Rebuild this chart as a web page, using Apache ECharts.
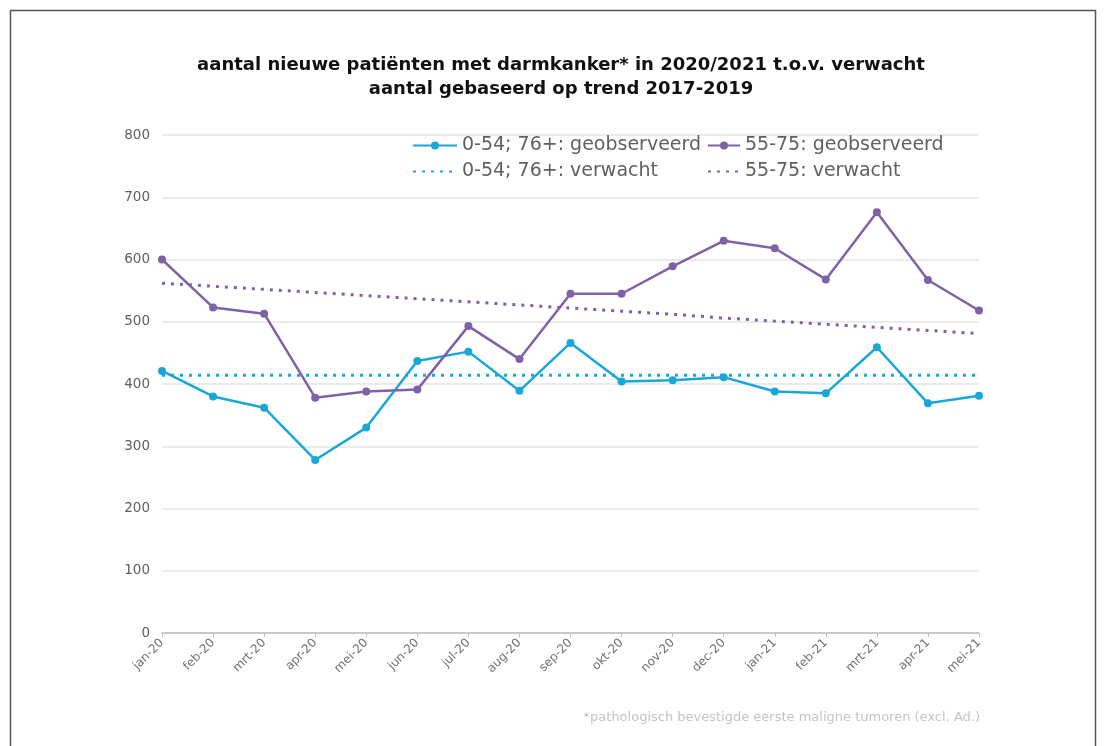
<!DOCTYPE html>
<html>
<head>
<meta charset="utf-8">
<style>
html,body{margin:0;padding:0;background:#fff;}
#chart{width:1106px;height:746px;}
</style>
<script src="https://cdn.jsdelivr.net/npm/echarts@6/dist/echarts.min.js"></script>
</head>
<body>
<div id="chart"></div>
<script>
const categories = ['jan-20','feb-20','mrt-20','apr-20','mei-20','jun-20','jul-20','aug-20','sep-20','okt-20','nov-20','dec-20','jan-21','feb-21','mrt-21','apr-21','mei-21'];
const obsA = [421, 380, 362, 278, 330, 437, 452, 389, 466, 404, 406, 411, 388, 385, 459, 369, 381];
const obsB = [600, 523, 513, 378, 388, 391, 493, 440, 545, 545, 589, 630, 618, 568, 676, 567, 518];
const expA = [414, 414, 414, 414, 414, 414, 414, 414, 414, 414, 414, 414, 414, 414, 414, 414, 414];
const expB = [562, 557, 552, 547, 542, 537, 532, 527, 522, 517, 512, 506, 501, 496, 491, 486, 481];
const yTicks = [0, 100, 200, 300, 400, 500, 600, 700, 800];
const names = ['0-54; 76+: geobserveerd', '55-75: geobserveerd', '0-54; 76+: verwacht', '55-75: verwacht'];
const titleLines = ['aantal nieuwe patiënten met darmkanker* in 2020/2021 t.o.v. verwacht', 'aantal gebaseerd op trend 2017-2019'];
const footnote = '*pathologisch bevestigde eerste maligne tumoren (excl. Ad.)';

const cyan = '#1aa7d8';
const purple = '#7f62a6';
const font = 'DejaVu Sans, sans-serif';

const chart = echarts.init(document.getElementById('chart'));
const legendText = { color: '#616161', fontSize: 19, fontFamily: font };
function mkLegend(name, left, top, w, hideSymbol) {
  const l = { data: [name], left: left, top: top, itemWidth: w, itemHeight: 10, itemGap: 4, textStyle: legendText, selectedMode: false, padding: 0 };
  if (hideSymbol) l.itemStyle = { opacity: 0 };
  return l;
}
chart.setOption({
  animation: false,
  backgroundColor: '#fff',
  title: {
    text: titleLines.join('\n'),
    left: 556, textAlign: 'center', top: 48,
    textStyle: { fontFamily: font, fontSize: 18, fontWeight: 'bold', color: '#111', lineHeight: 24 }
  },
  legend: [
    mkLegend(names[0], 412, 136, 44, false),
    mkLegend(names[1], 707, 136, 32, false),
    mkLegend(names[2], 412, 162, 44, true),
    mkLegend(names[3], 707, 162, 32, true)
  ],
  grid: { left: 162, right: 127, top: 135, bottom: 113 },
  xAxis: {
    type: 'category', data: categories, boundaryGap: false,
    axisLine: { lineStyle: { color: '#bfbfbf', width: 1.5 } },
    axisTick: { show: true, lineStyle: { color: '#bfbfbf' }, length: 4 },
    axisLabel: { rotate: 45, color: '#707070', fontSize: 12, fontFamily: font, margin: 8, interval: 0 }
  },
  yAxis: {
    type: 'value', min: 0, max: 800, interval: 100,
    axisLine: { show: false }, axisTick: { show: false },
    axisLabel: { color: '#5f5f5f', fontSize: 13.5, fontFamily: font, margin: 12,
      formatter: v => yTicks.includes(v) ? String(v) : '' },
    splitLine: { lineStyle: { color: '#e4e4e4', width: 1.5 } }
  },
  graphic: [
    { type: 'rect', shape: { x: 10.5, y: 10.5, width: 1085, height: 800 }, style: { fill: 'none', stroke: '#555', lineWidth: 1.5 }, silent: true },
    { type: 'text', right: 126, top: 711, style: { text: footnote, fill: '#c4c4c4', fontSize: 13, fontFamily: font } }
  ],
  series: [
    { name: names[0], type: 'line', data: obsA, symbol: 'circle', symbolSize: 8, color: cyan, lineStyle: { width: 2.5, color: cyan }, itemStyle: { color: cyan }, z: 4 },
    { name: names[1], type: 'line', data: obsB, symbol: 'circle', symbolSize: 8, color: purple, lineStyle: { width: 2.5, color: purple }, itemStyle: { color: purple }, z: 4 },
    { name: names[2], type: 'line', data: expA, symbol: 'none', color: cyan, lineStyle: { width: 3, type: [3, 6], color: cyan }, itemStyle: { color: cyan }, z: 3 },
    { name: names[3], type: 'line', data: expB, symbol: 'none', color: purple, lineStyle: { width: 3, type: [3, 6], color: purple }, itemStyle: { color: purple }, z: 3 }
  ]
});
</script>
</body>
</html>
